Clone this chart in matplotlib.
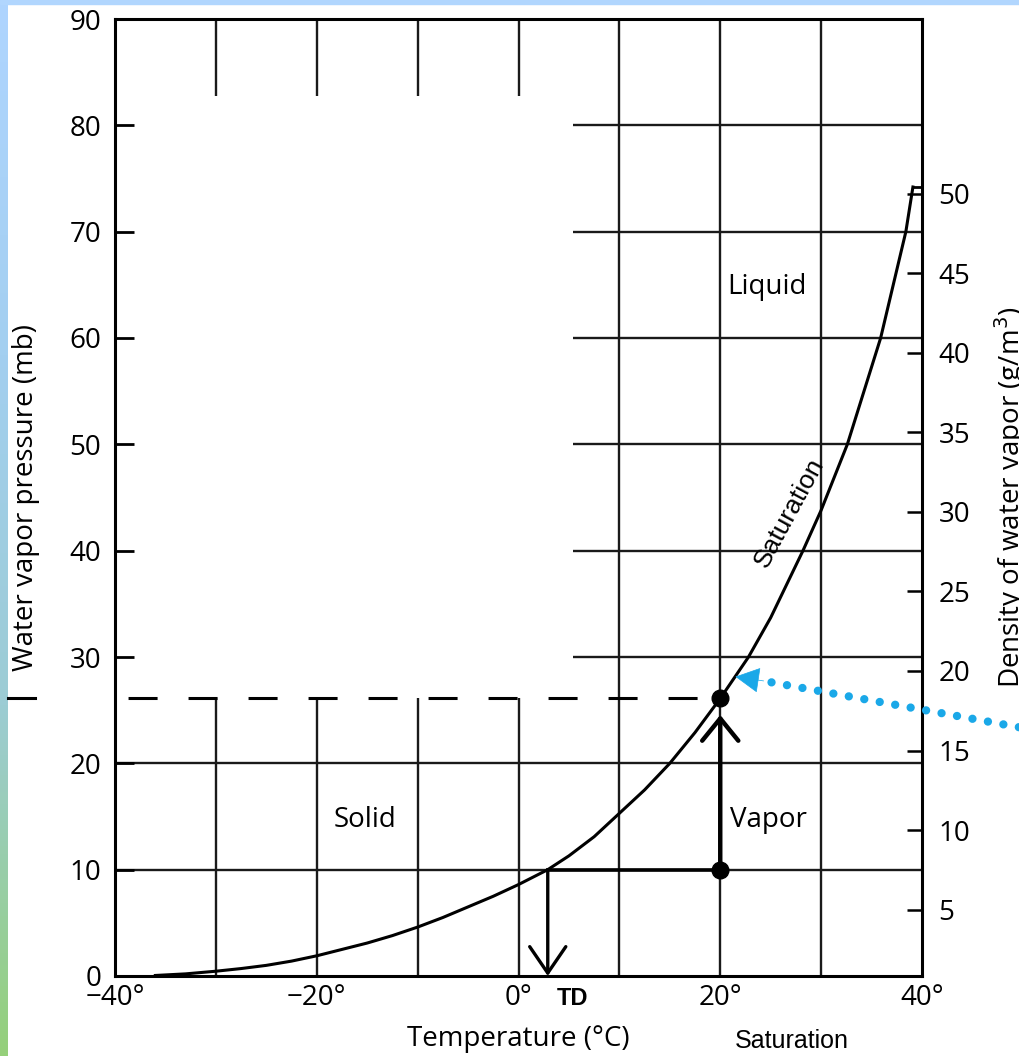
import numpy as np
import matplotlib.pyplot as plt
from matplotlib.colors import LinearSegmentedColormap
from matplotlib.patches import Rectangle

plt.rcParams['font.family'] = ['Open Sans', 'DejaVu Sans']
plt.rcParams['lines.scale_dashes'] = False

# saturation vapour pressure (mb) over temperature (deg C)
temp_c = [-36, -33, -30, -27.5, -25, -22.5, -20, -17.5, -15, -12.5, -10, -7.5, -5,
          -2.5, 0, 2.9, 5, 7.5, 10, 12.5, 15, 17.5, 20, 22.8, 25, 28.2, 30,
          32.6, 35.9, 38.4, 39.1]
sat_mb = [0.05, 0.2, 0.45, 0.7, 1.0, 1.4, 1.9, 2.5, 3.1, 3.8, 4.6, 5.5, 6.5,
          7.5, 8.6, 10.0, 11.3, 13.1, 15.3, 17.5, 20.0, 22.9, 26.1, 30.0, 33.7, 40.0, 43.8,
          50.0, 60.0, 70.0, 74.2]

# the air parcel example
air_temp = 20
vapor_mb = 10
dew_point = 2.9
sat_at_air = 26.1

pressure_ticks = list(range(0, 100, 10))
temp_ticks = [-40, -20, 0, 20, 40]
grid_temps = [-30, -20, -10, 0, 10, 20, 30]
grid_press = [10, 20, 30, 40, 50, 60, 70, 80]
density_ticks = [5, 10, 15, 20, 25, 30, 35, 40, 45, 50]

blue = '#1AA8E8'

fig = plt.figure(figsize=(10.19, 10.56), dpi=100)
fig.patch.set_facecolor('white')

# coloured edge strips
strip = fig.add_axes([0, 0, 8 / 1019, 1])
cmap = LinearSegmentedColormap.from_list('edge', ['#AFD5FF', '#A3CFF0', '#9CCCD4', '#95D07A'])
strip.imshow(np.linspace(0, 1, 256).reshape(-1, 1), cmap=cmap, aspect='auto')
strip.axis('off')
fig.patches.append(Rectangle((0, 1 - 4 / 1056), 1, 4 / 1056, transform=fig.transFigure,
                             color='#B1D6FE', zorder=0))

ax = fig.add_axes([115 / 1019, 80 / 1056, 807 / 1019, 957 / 1056])
ax.set_xlim(-40, 40)
ax.set_ylim(0, 90)
ax.set_axisbelow(False)

for t in grid_temps:
    ax.axvline(t, color='#1a1a1a', lw=1.7, zorder=1)
for p in grid_press:
    ax.axhline(p, color='#1a1a1a', lw=1.7, zorder=1)

# blank panel over the upper left part of the grid
ax.add_patch(Rectangle((-40, sat_at_air), 45.4, 82.8 - sat_at_air,
                       facecolor='white', edgecolor='none', zorder=1.5))

for s in ax.spines.values():
    s.set_linewidth(2.2)

ax.set_yticks(pressure_ticks)
ax.set_yticklabels([str(p) for p in pressure_ticks])
ax.set_xticks(temp_ticks)
ax.set_xticklabels([f'{t}°'.replace('-', '\u2212') for t in temp_ticks])
ax.tick_params(axis='y', direction='in', length=14, width=2, pad=10, labelsize=20)
ax.tick_params(axis='x', length=0, pad=6, labelsize=20)

ax.set_ylabel('Water vapor pressure (mb)', fontsize=20)
ax.yaxis.set_label_coords(-0.093, 0.5)
ax.set_xlabel('Temperature (°C)', fontsize=20)
ax.xaxis.set_label_coords(0.5, -0.051)

# density scale on the right
ax2 = ax.twinx()
ax2.set_ylim(0.82, 61.0)
ax2.set_yticks(density_ticks)
ax2.tick_params(axis='y', direction='in', length=11, width=1.8, pad=12, labelsize=20)
ax2.set_ylabel('Density of water vapor (g/m$^3$)', fontsize=20)
ax2.yaxis.set_label_coords(1.087, 0.5)
for s in ax2.spines.values():
    s.set_visible(False)

# saturation curve
ax.plot(temp_c, sat_mb, color='k', lw=2.2, zorder=3, solid_joinstyle='round')
ax.plot([temp_c[-1], 40], [sat_mb[-1], sat_mb[-1]], color='k', lw=2, zorder=3)

# dashed level at the saturation pressure
ax.plot([-40, air_temp], [sat_at_air, sat_at_air], color='k', lw=2.2, zorder=3,
        linestyle=(33.8, (20.9, 22.3)))
ax.plot([-50.6, -47.9], [sat_at_air, sat_at_air], color='k', lw=2.2, clip_on=False)

# cooling path down to the dew point
ax.plot([dew_point, air_temp], [vapor_mb, vapor_mb], color='k', lw=2.6, zorder=3)
ax.annotate('', xy=(dew_point, 0), xytext=(dew_point, vapor_mb),
            arrowprops=dict(arrowstyle='->,head_length=0.95,head_width=0.65', lw=2.4,
                            color='k', mutation_scale=20, shrinkA=0, shrinkB=0),
            zorder=4)
ax.annotate('', xy=(air_temp, 24.55), xytext=(air_temp, vapor_mb),
            arrowprops=dict(arrowstyle='->,head_length=0.8,head_width=0.65', lw=3.2,
                            color='k', mutation_scale=20, shrinkA=0, shrinkB=0),
            zorder=4)
ax.plot([air_temp, air_temp], [vapor_mb, sat_at_air], 'o', ms=12, color='k', zorder=5)

# blue dotted pointer
ax.annotate('', xy=(24.3, 27.75), xytext=(49.6, 23.4), annotation_clip=False,
            arrowprops=dict(arrowstyle='-', lw=6, color=blue, linestyle=(0, (0.01, 11.3)),
                            capstyle='round', shrinkA=0, shrinkB=0),
            zorder=6)
ax.annotate('', xy=(21.5, 28.15), xytext=(24.3, 27.75),
            arrowprops=dict(arrowstyle='-|>,head_length=0.8,head_width=0.42', lw=0.5,
                            color=blue, mutation_scale=20, shrinkA=0, shrinkB=0),
            zorder=6)

# region labels
ax.text(24.6, 64.8, 'Liquid', fontsize=20, ha='center', va='center', zorder=4)
ax.text(-15.2, 14.7, 'Solid', fontsize=20, ha='center', va='center', zorder=4)
ax.text(24.8, 14.7, 'Vapor', fontsize=20, ha='center', va='center', zorder=4)
ax.text(26.9, 43.6, 'Saturation', fontsize=19, family='Liberation Sans', rotation=61.5,
        ha='center', va='center', rotation_mode='anchor', zorder=4)
ax.text(5.4, -2.1, 'TD', fontsize=17, family='Liberation Sans', weight='bold',
        ha='center', va='center', clip_on=False)
ax.text(27.1, -6.1, 'Saturation', fontsize=18, family='Liberation Sans',
        ha='center', va='center', clip_on=False)

fig.savefig('out.png', dpi=100)
